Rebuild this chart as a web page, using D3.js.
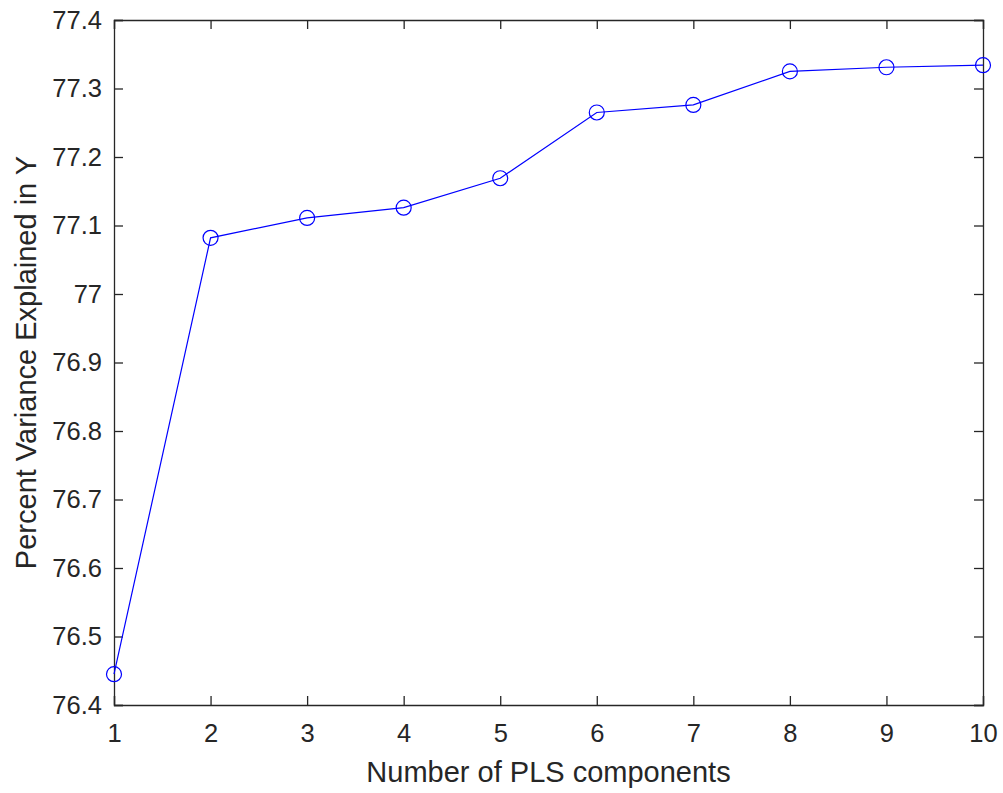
<!DOCTYPE html>
<html>
<head>
<meta charset="utf-8">
<script src="https://cdn.jsdelivr.net/npm/d3@7"></script>
<style>
  body { margin: 0; background: #fff; }
  svg text { font-family: "Liberation Sans", Arial, sans-serif; fill: #262626; }
</style>
</head>
<body>
<div id="chart"></div>
<script>
const components = [1, 2, 3, 4, 5, 6, 7, 8, 9, 10];
const pctVarY = [76.445, 77.082, 77.111, 77.126, 77.169, 77.265, 77.276, 77.325, 77.331, 77.334];
const xTicks = [1, 2, 3, 4, 5, 6, 7, 8, 9, 10];
const yTicks = [76.4, 76.5, 76.6, 76.7, 76.8, 76.9, 77, 77.1, 77.2, 77.3, 77.4];

const width = 1003, height = 793;
const margin = {top: 20, right: 20, bottom: 88, left: 114};
const axisColor = "#262626";
const tickLen = 9;

const svg = d3.select("#chart")
    .append("svg")
    .attr("width", width)
    .attr("height", height);

const xScale = d3.scaleLinear()
    .domain([1, 10])
    .range([margin.left, width - margin.right]);

const yScale = d3.scaleLinear()
    .domain([76.4, 77.4])
    .range([height - margin.bottom, margin.top]);

const fmt = d => String(+d.toFixed(1));

// bottom / top axes
svg.append("g")
    .attr("transform", `translate(0,${height - margin.bottom})`)
    .call(d3.axisBottom(xScale).tickValues(xTicks).tickSize(-tickLen).tickPadding(19).tickFormat(d => d));
svg.append("g")
    .attr("transform", `translate(0,${margin.top})`)
    .call(d3.axisTop(xScale).tickValues(xTicks).tickSize(-tickLen).tickFormat(""));

// left / right axes
svg.append("g")
    .attr("transform", `translate(${margin.left},0)`)
    .call(d3.axisLeft(yScale).tickValues(yTicks).tickSize(-tickLen).tickPadding(12).tickFormat(fmt));
svg.append("g")
    .attr("transform", `translate(${width - margin.right},0)`)
    .call(d3.axisRight(yScale).tickValues(yTicks).tickSize(-tickLen).tickFormat(""));

svg.selectAll(".domain").attr("stroke", axisColor).attr("stroke-width", 1.3);
svg.selectAll(".tick line").attr("stroke", axisColor).attr("stroke-width", 1.3);
svg.selectAll(".tick text").style("font-size", "25.5px").attr("fill", axisColor);

// line
const line = d3.line()
    .x((d, i) => xScale(components[i]))
    .y(d => yScale(d));

svg.append("path")
    .datum(pctVarY)
    .attr("fill", "none")
    .attr("stroke", "#0000ff")
    .attr("stroke-width", 1.2)
    .attr("d", line);

svg.selectAll("circle")
    .data(pctVarY)
    .enter()
    .append("circle")
    .attr("cx", (d, i) => xScale(components[i]))
    .attr("cy", d => yScale(d))
    .attr("r", 7.5)
    .attr("fill", "none")
    .attr("stroke", "#0000ff")
    .attr("stroke-width", 1.2);

// labels
svg.append("text")
    .attr("x", (margin.left + width - margin.right) / 2)
    .attr("y", 782)
    .attr("text-anchor", "middle")
    .style("font-size", "29px")
    .text("Number of PLS components");

svg.append("text")
    .attr("transform", `translate(36,${(margin.top + height - margin.bottom) / 2}) rotate(-90)`)
    .attr("text-anchor", "middle")
    .style("font-size", "29px")
    .text("Percent Variance Explained in Y");
</script>
</body>
</html>
